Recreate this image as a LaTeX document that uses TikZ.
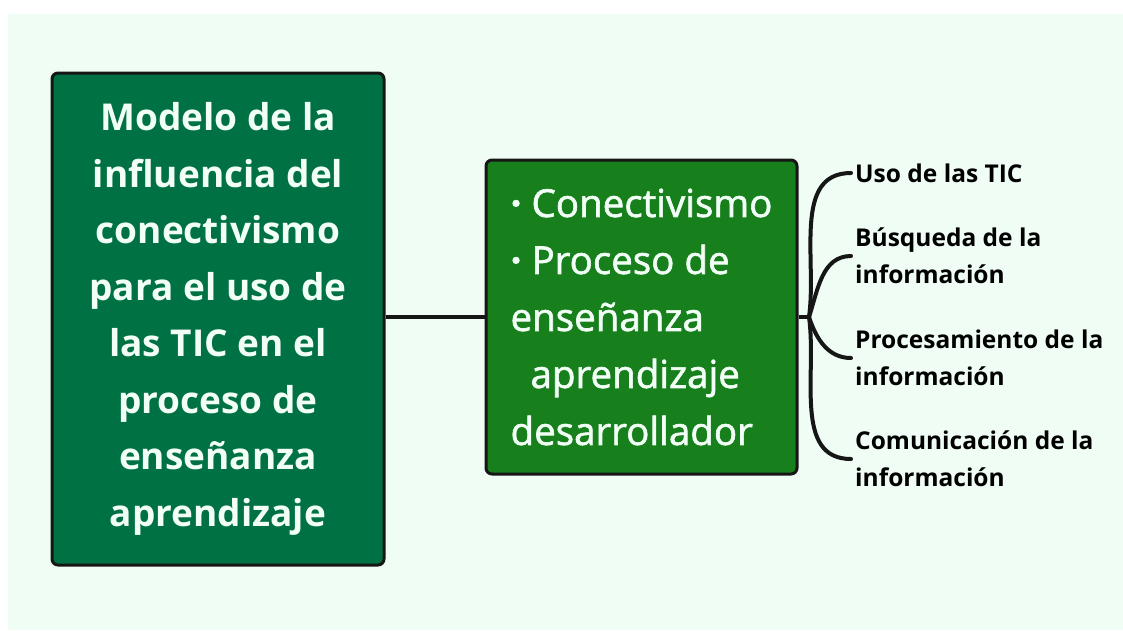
\documentclass[tikz,border=0pt]{standalone}
\usepackage{fontspec}
\setmainfont{Open Sans}
\newfontfamily\mediumfont[FakeBold=1.6]{Open Sans}
\usetikzlibrary{positioning}
\definecolor{mintbg}{HTML}{F0FDF5}
\definecolor{deepgreen}{HTML}{007142}
\definecolor{midgreen}{HTML}{17801D}
\definecolor{paletext}{HTML}{F2FFF6}
\definecolor{inkline}{HTML}{161616}
\tikzstyle{topic}=[draw=inkline, line width=3pt, rounded corners=6pt, text=paletext, inner sep=0pt]
\tikzstyle{branch}=[draw=inkline, line width=4pt, line cap=round]
\tikzstyle{leaf}=[anchor=west, align=left, inner sep=0pt, text=black, font=\fontsize{24.5}{37}\selectfont\bfseries]

\begin{document}
\begin{tikzpicture}[x=1pt, y=-1pt]
  \useasboundingbox (0,0) rectangle (1123,630);
  \fill[mintbg] (8,14) rectangle (1123,630);

  \node[topic, fill=deepgreen, minimum width=332pt, minimum height=492pt,
        align=center, font=\fontsize{37}{56.5}\selectfont\bfseries]
    (model) at (218,319)
    {Modelo de la\\ influencia del\\ conectivismo\\ para el uso de\\ las TIC en el\\ proceso de\\ enseñanza\\ aprendizaje};

  \node[topic, fill=midgreen, minimum width=311pt, minimum height=314pt,
        align=left, font=\fontsize{38.5}{57}\mediumfont]
    (bases) at (641.5,317)
    {\textbf{·} Conectivismo\\ \textbf{·} Proceso de\\ enseñanza\\ \hspace*{20pt}aprendizaje\\ desarrollador};

  \node[leaf] (uso) at (855,173) {Uso de las TIC};
  \node[leaf] (busq) at (855,256) {Búsqueda de la\\ información};
  \node[leaf] (proc) at (855,358) {Procesamiento de la\\ información};
  \node[leaf] (comu) at (855,459) {Comunicación de la\\ información};

  \coordinate (hub) at (809,317);

  \draw[branch, line cap=butt] (model.east |- bases.west) -- (bases.west);
  \draw[branch, line cap=butt] (bases.east) -- (hub);
  \draw[branch] (hub) to[out=82, in=180] ([xshift=-4pt]uso.west);
  \draw[branch] (hub) to[out=72, in=180] ([xshift=-4pt]busq.west);
  \draw[branch] (hub) to[out=-72, in=180] ([xshift=-4pt]proc.west);
  \draw[branch] (hub) to[out=-82, in=180] ([xshift=-4pt]comu.west);
\end{tikzpicture}
\end{document}
